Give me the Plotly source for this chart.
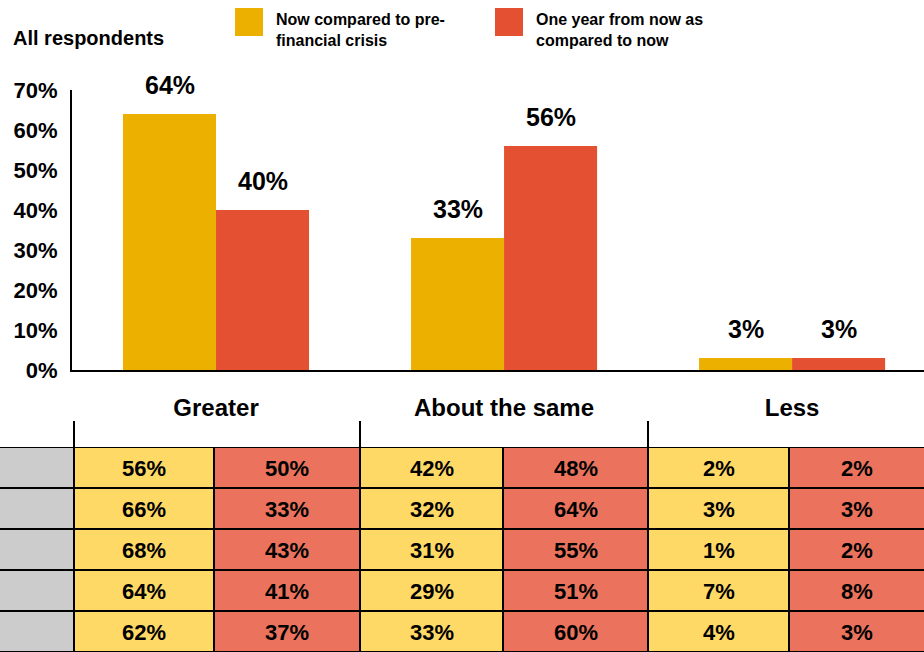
import plotly.graph_objects as go

W, H = 924, 652

# ---- chart data ----
categories = ["Greater", "About the same", "Less"]
now_vs_pre_crisis = [64, 33, 3]
year_ahead_vs_now = [40, 56, 3]
y_tick_values = [0, 10, 20, 30, 40, 50, 60, 70]
y_tick_labels = ["0%", "10%", "20%", "30%", "40%", "50%", "60%", "70%"]

# ---- breakdown grid (five rows per column) ----
greater_now = [56, 66, 68, 64, 62]
greater_next = [50, 33, 43, 41, 37]
same_now = [42, 32, 31, 29, 33]
same_next = [48, 64, 55, 51, 60]
less_now = [2, 3, 1, 7, 4]
less_next = [2, 3, 2, 8, 3]

legend_names = ["Now compared to pre-financial crisis",
                "One year from now as compared to now"]

BAR_YELLOW = "#EBB000"
BAR_RED = "#E45032"
CELL_YELLOW = "#FFD966"
CELL_RED = "#EB735D"
CELL_GRAY = "#CCCCCC"
FONT = "Liberation Sans"


def fx(px):
    return px / W


def fy(px):
    return 1 - px / H


def bold(size):
    return dict(family=FONT, size=size, color="black", weight="bold")


fig = go.Figure()

fig.add_trace(go.Bar(x=categories, y=now_vs_pre_crisis, name=legend_names[0],
                     marker=dict(color=BAR_YELLOW, line=dict(width=0)),
                     showlegend=False, hoverinfo="skip"))
fig.add_trace(go.Bar(x=categories, y=year_ahead_vs_now, name=legend_names[1],
                     marker=dict(color=BAR_RED, line=dict(width=0)),
                     showlegend=False, hoverinfo="skip"))

bargap = 0.354
half = (1 - bargap) / 4  # centre offset of each bar within its group

annotations = []
for i, (a, b) in enumerate(zip(now_vs_pre_crisis, year_ahead_vs_now)):
    for val, off in ((a, -half), (b, half)):
        annotations.append(dict(x=i + off, y=val, xref="x", yref="y",
                                text=f"{val}%", showarrow=False,
                                yanchor="middle", yshift=29, font=bold(25)))

# breakdown grid drawn as a heatmap: 0 = blank grey, 1 = yellow, 2 = red
columns = [greater_now, greater_next, same_now, same_next, less_now, less_next]
n_rows = len(greater_now)
col_edges = [-1, 74, 214, 360, 503, 648, 789, W + 1]
z = [[0] + [1 + (j % 2) for j in range(len(columns))] for _ in range(n_rows)]
cell_text = [[""] + [f"{col[r]}%" for col in columns] for r in range(n_rows)]
fig.add_trace(go.Heatmap(
    x=col_edges, y=list(range(n_rows + 1)), z=z, text=cell_text,
    texttemplate="%{text}", textfont=bold(22),
    colorscale=[[0, CELL_GRAY], [0.5, CELL_YELLOW], [1, CELL_RED]],
    zmin=0, zmax=2, showscale=False, xgap=2, ygap=2,
    hoverinfo="skip", xaxis="x2", yaxis="y2",
))

shapes = [
    # black backing that shows through the grid gaps as cell borders
    dict(type="rect", xref="x2", yref="y2", x0=-1, x1=W + 1, y0=0, y1=n_rows,
         fillcolor="black", line=dict(width=0), layer="below"),
]
# separators above the grid
for xp in (74, 360, 648):
    shapes.append(dict(type="line", xref="paper", yref="paper",
                       x0=fx(xp), x1=fx(xp), y0=fy(421), y1=fy(447),
                       line=dict(color="black", width=2)))

# legend swatches and labels
legend_items = [
    (235, BAR_YELLOW, "Now compared to pre-<br>financial crisis"),
    (495, BAR_RED, "One year from now as<br>compared to now"),
]
for x0, color, label in legend_items:
    shapes.append(dict(type="rect", xref="paper", yref="paper",
                       x0=fx(x0), x1=fx(x0 + 28), y0=fy(8), y1=fy(36),
                       fillcolor=color, line=dict(width=0)))
    annotations.append(dict(x=fx(x0 + 40), y=fy(29.5), xref="paper",
                            yref="paper", text=label, showarrow=False,
                            xanchor="left", yanchor="middle", align="left",
                            borderpad=0, font=bold(16)))

annotations.append(dict(x=fx(11), y=fy(38), xref="paper", yref="paper",
                        text="All respondents", showarrow=False,
                        xanchor="left", yanchor="middle", font=bold(20)))

fig.update_layout(
    width=W, height=H,
    margin=dict(l=0, r=0, t=0, b=0, pad=0, autoexpand=False),
    showlegend=False,
    paper_bgcolor="white", plot_bgcolor="white",
    barmode="group", bargap=bargap, bargroupgap=0,
    xaxis=dict(domain=[fx(72), 1], range=[-0.5, 2.458], type="category",
               showline=True, linecolor="black", linewidth=2, ticks="",
               showgrid=False, zeroline=False, ticklabelstandoff=15,
               automargin=False, tickfont=bold(24)),
    yaxis=dict(domain=[fy(370), fy(90)], range=[0, 70],
               tickmode="array", tickvals=y_tick_values, ticktext=y_tick_labels,
               showline=True, linecolor="black", linewidth=2, ticks="",
               showgrid=False, zeroline=False, ticklabelstandoff=8,
               automargin=False, tickfont=bold(22)),
    xaxis2=dict(domain=[0, 1], range=[0, W], visible=False, fixedrange=True,
                anchor="y2"),
    yaxis2=dict(domain=[0, fy(447)], range=[n_rows, 0], visible=False,
                fixedrange=True, anchor="x2"),
    shapes=shapes,
    annotations=annotations,
)

fig.write_html("out.html")
